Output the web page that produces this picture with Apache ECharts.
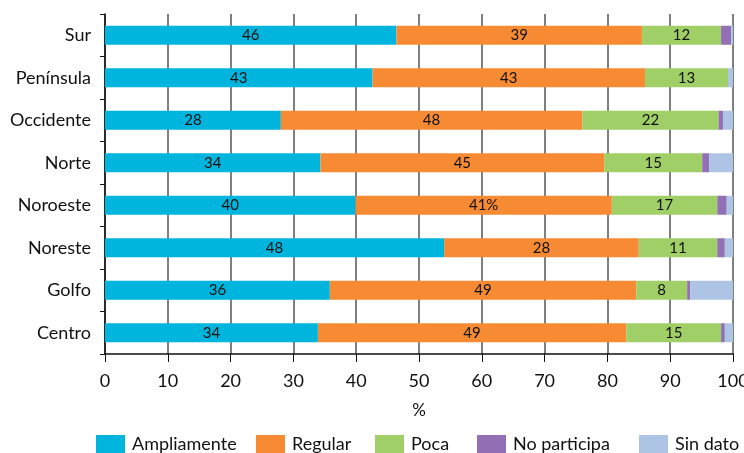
<!DOCTYPE html>
<html>
<head>
<meta charset="utf-8">
<script src="https://cdn.jsdelivr.net/npm/echarts@6/dist/echarts.min.js"></script>
<style>html,body{margin:0;padding:0;background:#fff}#c{width:744px;height:453px}</style>
</head>
<body>
<div id="c"></div>
<script>
const categories = ['Sur','Península','Occidente','Norte','Noroeste','Noreste','Golfo','Centro'];
const seriesNames = ['Ampliamente','Regular','Poca','No participa','Sin dato'];
const ampliamente = [46.4, 42.6, 28.0, 34.3, 39.9, 54.0, 35.8, 33.9];
const regular     = [39.1, 43.4, 48.0, 45.2, 40.8, 31.0, 48.8, 49.1];
const poca        = [12.6, 13.2, 21.7, 15.6, 16.8, 12.5, 8.1, 15.1];
const noParticipa = [1.6, 0.0, 0.7, 1.1, 1.5, 1.2, 0.5, 0.6];
const sinDato     = [0.3, 0.8, 1.6, 3.8, 1.0, 1.3, 6.8, 1.3];
const ampliamenteLabels = ['46','43','28','34','40','48','36','34'];
const regularLabels     = ['39','43','48','45','41%','28','49','49'];
const pocaLabels        = ['12','13','22','15','17','11','8','15'];
const xTicks = [0,10,20,30,40,50,60,70,80,90,100];

const colors = ['#00B5DD','#F68B33','#A0CF67','#9370B5','#AEC4E5'];
const values = [ampliamente, regular, poca, noParticipa, sinDato];
const labels = [ampliamenteLabels, regularLabels, pocaLabels, null, null];
const legendLeft = [91, 251, 370, 472, 634];
const FONT = 'Lato, "Open Sans", sans-serif';

const chart = echarts.init(document.getElementById('c'), null, {renderer:'canvas'});
chart.setOption({
  animation: false,
  color: colors,
  textStyle: {fontFamily: FONT},
  grid: {left: 105, right: 11, top: 14, bottom: 99, containLabel: false, outerBoundsMode: 'none'},
  legend: seriesNames.map((n, i) => ({
    top: 430, left: legendLeft[i],
    itemWidth: 29, itemHeight: 19,
    icon: 'rect',
    textStyle: {fontFamily: FONT, fontSize: 18, color: '#111', padding: [0,0,0,2]},
    data: [n]
  })),
  xAxis: {
    type: 'value', min: 0, max: 100, interval: 10,
    name: '%', nameLocation: 'middle', nameGap: 48,
    nameTextStyle: {fontFamily: FONT, fontSize: 17, color: '#111'},
    axisLine: {show: true, lineStyle: {color: '#111', width: 1.5}},
    axisTick: {show: true, length: 8, lineStyle: {color: '#111'}},
    axisLabel: {fontFamily: FONT, fontSize: 18, color: '#111', margin: 18,
      formatter: v => xTicks.includes(v) ? String(v) : ''},
    splitLine: {show: true, lineStyle: {color: '#555', width: 1.5}}
  },
  yAxis: {
    type: 'category', data: categories, inverse: true,
    axisLine: {show: true, lineStyle: {color: '#111', width: 1.5}},
    axisTick: {show: true, length: 5, lineStyle: {color: '#111'}},
    axisLabel: {fontFamily: FONT, fontSize: 18, color: '#111', margin: 14},
    splitLine: {show: false}
  },
  series: seriesNames.map((n, i) => ({
    name: n, type: 'bar', stack: 'total', barWidth: 19,
    data: values[i],
    itemStyle: {color: colors[i]},
    label: labels[i] ? {
      show: true, position: 'inside', color: '#111',
      fontFamily: FONT, fontSize: 15,
      formatter: p => labels[i][p.dataIndex]
    } : {show: false}
  }))
});
</script>
</body>
</html>
